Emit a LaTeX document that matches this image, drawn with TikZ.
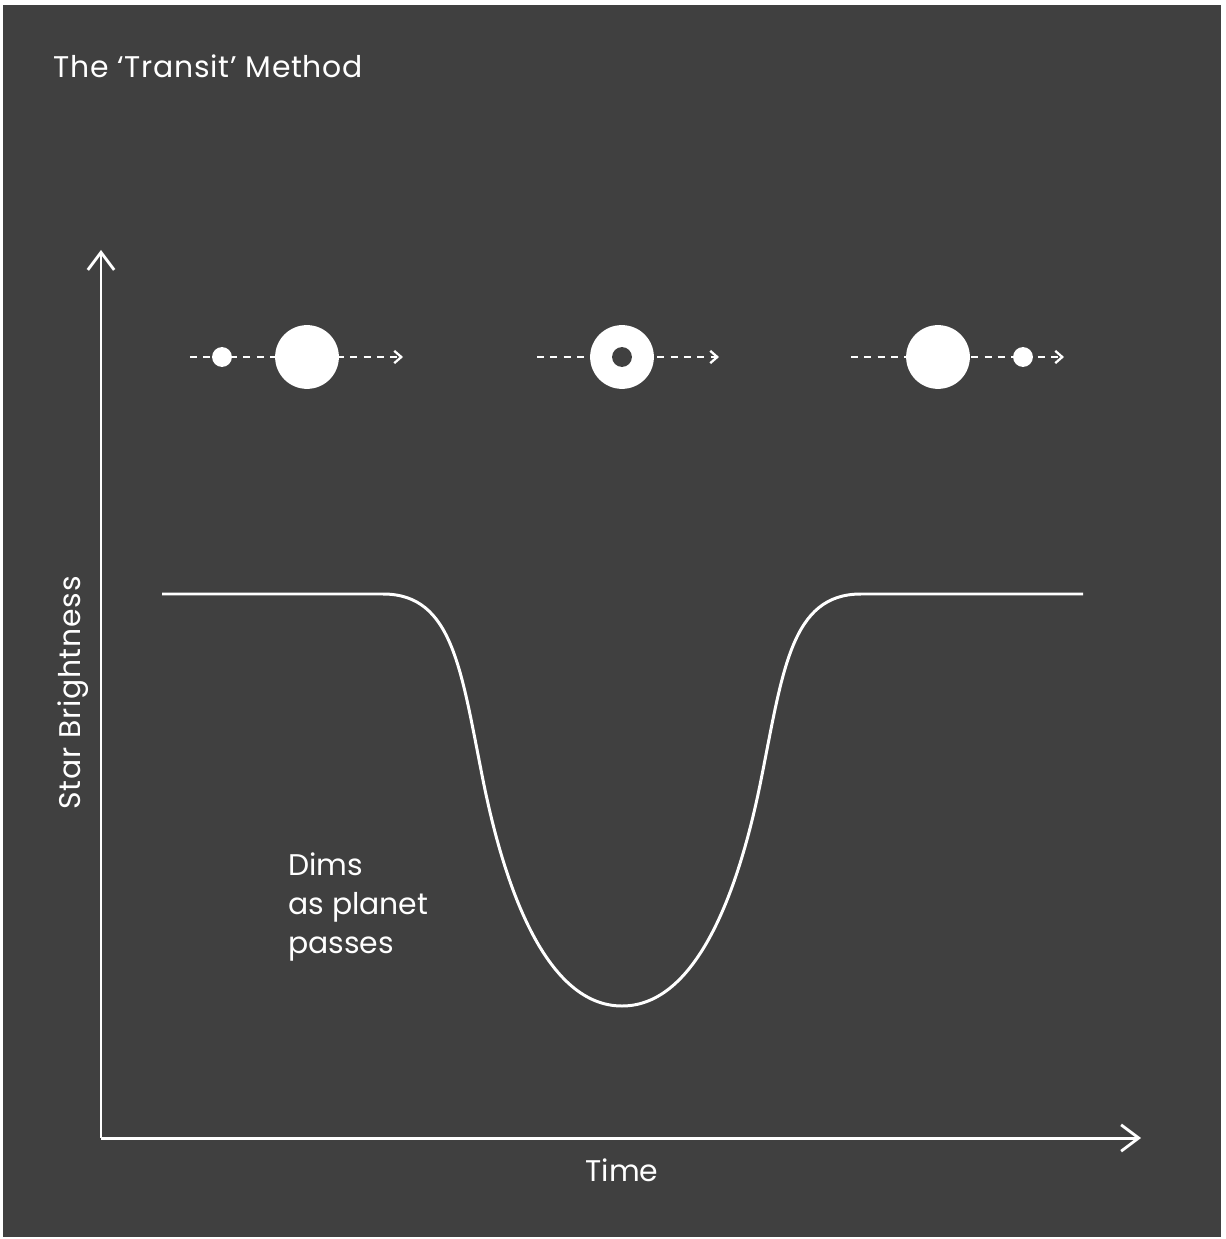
\documentclass[tikz,border=0pt]{standalone}
\usepackage{fontspec}
\setmainfont{Poppins}
\usetikzlibrary{arrows.meta}
\definecolor{bg}{HTML}{404040}
\tikzset{
  axis/.style={draw=white, line width=1.7pt, -{Straight Barb[length=10pt,width=15pt,line width=1.6pt]}},
  orbit/.style={draw=white, line width=1.5pt, dash pattern=on 4pt off 3.6pt, -{Straight Barb[length=4pt,width=7pt,line width=1.3pt]}},
  star/.style={circle, fill=white, minimum size=36.3pt, inner sep=0pt},
  planet/.style={circle, fill=white, minimum size=11.3pt, inner sep=0pt},
  shadow/.style={circle, fill=bg, minimum size=11.3pt, inner sep=0pt},
  lbl/.style={text=white, font=\fontsize{17}{22}\selectfont, inner sep=0pt},
  curve/.style={draw=white, line width=1.7pt}
}
\begin{document}
\begin{tikzpicture}[x=0.02cm, y=-0.02cm]
\useasboundingbox (0,0) rectangle (1225,1239);
\fill[white] (0,0) rectangle (1225,1239);
\fill[bg] (3,5) rectangle (1221,1237);

% title
\node[lbl, anchor=base west] (title) at (53,78) {\addfontfeature{LetterSpace=2.5}The ‘Transit’ Method};

% axes
\coordinate (origin) at (101,1138);
\coordinate (ytip) at (101,250);
\coordinate (xtip) at (1141,1138);
\draw[axis] (origin) -- (ytip);
\draw[axis] (origin) -- (xtip);
\node[lbl, anchor=base] (xlabel) at (622,1181) {Time};
\node[lbl, rotate=90, anchor=base] (ylabel) at (80,693) {\addfontfeature{LetterSpace=2.5}Star Brightness};

% light curve
\draw[curve] (162,594) -- (383,594)
  .. controls (453,594) and (461,670) .. (483,780)
  .. controls (505,890) and (547,1006) .. (622,1006)
  .. controls (697,1006) and (739,890) .. (761,780)
  .. controls (783,670) and (791,594) .. (861,594)
  -- (1083,594);

% annotation
\node[lbl, anchor=base west, align=left] (dims) at (288,953) {Dims\\as planet\\passes};

% group 1: before transit
\coordinate (s1) at (190,357);
\coordinate (e1) at (403,357);
\draw[orbit] (s1) -- (e1);
\node[planet] (p1) at (222,357) {};
\node[star] (st1) at (307,357) {};

% group 2: during transit
\coordinate (s2) at (537,357);
\coordinate (e2) at (719,357);
\draw[orbit] (s2) -- (e2);
\node[star] (st2) at (622,357) {};
\node[shadow] (p2) at (622,357) {};

% group 3: after transit
\coordinate (s3) at (851,357);
\coordinate (e3) at (1064,357);
\draw[orbit] (s3) -- (e3);
\node[star] (st3) at (938,357) {};
\node[planet] (p3) at (1023,357) {};
\end{tikzpicture}
\end{document}
